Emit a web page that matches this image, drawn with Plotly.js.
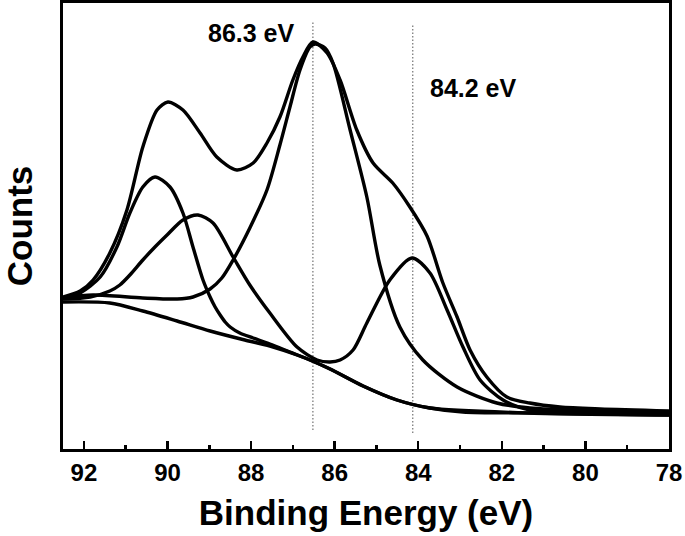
<!DOCTYPE html>
<html>
<head>
<meta charset="utf-8">
<script src="https://cdn.plot.ly/plotly-3.0.1.min.js"></script>
<style>html,body{margin:0;padding:0;background:#fff;}#chart{width:685px;height:536px;}</style>
</head>
<body>
<div id="chart"></div>
<script>
// Binding energy (eV) and counts (arbitrary units)
const envelopeE = [92.5, 92.09, 91.78, 91.38, 90.97, 90.59, 90.25, 89.99, 89.63, 89.22, 88.82, 88.34, 87.95, 87.62, 87.31, 87.00, 86.76, 86.52, 86.18, 85.87, 85.47, 85.08, 84.61, 84.20, 83.79, 83.41, 83.07, 82.76, 82.36, 81.88, 81.33, 80.61, 79.65, 78.0];
const envelopeC = [152, 158, 169, 196, 239, 302, 339, 347, 339, 316, 292, 279, 286, 306, 332, 369, 392, 407, 396, 369, 319, 286, 266, 242, 213, 166, 132, 99, 72, 52, 46, 42, 40, 38];

const peakAE = [92.5, 92.09, 91.61, 91.21, 90.90, 90.59, 90.30, 89.94, 89.63, 89.39, 89.15, 88.98, 88.86, 88.74, 88.62, 88.50, 88.27, 87.95, 87.55, 87.07, 86.59, 86.11, 85.32, 84.51, 83.72, 81.33, 78.0];
const peakAC = [151, 156, 172, 202, 236, 262, 272, 262, 236, 202, 169, 152, 142, 134, 127, 122, 116, 111, 105, 97, 89, 80, 63, 49, 41, 36, 34];

const peakBE = [92.5, 91.85, 91.38, 91.14, 90.90, 90.59, 90.30, 90.01, 89.63, 89.27, 88.91, 88.43, 88.03, 87.55, 86.90, 86.42, 86.11, 85.87, 85.56, 85.23, 84.68, 84.15, 83.72, 83.31, 82.93, 82.52, 81.97, 81.33, 79.65, 78.0];
const peakBC = [150, 152, 158, 164, 174, 189, 202, 214, 229, 234, 226, 192, 164, 136, 102, 89, 87, 89, 99, 126, 169, 191, 176, 139, 102, 69, 49, 39, 37, 35];

const mainE = [92.5, 91.78, 90.59, 89.77, 89.39, 88.98, 88.70, 88.43, 88.03, 87.62, 87.31, 87.07, 86.83, 86.59, 86.47, 86.23, 86.04, 85.63, 85.23, 84.92, 84.44, 83.89, 83.07, 82.12, 81.33, 79.65, 78.0];
const mainC = [151, 154, 151, 150, 152, 160, 171, 189, 221, 259, 304, 342, 379, 402, 405, 401, 386, 319, 252, 184, 122, 89, 62, 46, 41, 38, 36];

const bgE = [92.5, 91.38, 90.59, 89.77, 88.98, 88.15, 87.55, 86.83, 86.11, 85.32, 84.51, 83.72, 82.93, 81.33, 78.0];
const bgC = [147, 146, 138, 128, 118, 109, 103, 93, 80, 63, 49, 41, 37, 36, 34];

const markE = [86.52, 84.13];
const markTop = [427, 424];
const markBottom = [19, 16];
const markLabels = ['86.3 eV', '84.2 eV'];
const labelE = [88.0, 82.67];
const labelC = [416, 361];

const xTicks = [92, 90, 88, 86, 84, 82, 80, 78];

const FONT = 'Liberation Sans, Arial, Helvetica, sans-serif';
const lineStyle = {color: '#000', width: 3.4, shape: 'spline', smoothing: 0.8};

const curves = [
  [bgE, bgC], [peakAE, peakAC], [peakBE, peakBC], [mainE, mainC], [envelopeE, envelopeC]
];
const traces = curves.map(c => ({
  x: c[0], y: c[1], type: 'scatter', mode: 'lines', line: lineStyle, hoverinfo: 'skip', showlegend: false
}));
markE.forEach((e, i) => {
  traces.unshift({
    x: [e, e], y: [markBottom[i], markTop[i]], type: 'scatter', mode: 'lines',
    line: {color: '#555', width: 1, dash: '1.5px,2px'}, showlegend: false, hoverinfo: 'skip'
  });
});

const layout = {
  width: 685, height: 536,
  margin: {l: 63, r: 16, t: 3, b: 87},
  paper_bgcolor: '#fff', plot_bgcolor: '#fff',
  font: {family: FONT, color: '#000'},
  showlegend: false,
  xaxis: {
    range: [92.5, 78], tickvals: xTicks, ticktext: xTicks.map(v => '<b>' + v + '</b>'),
    ticks: 'inside', ticklen: 8, tickwidth: 2.5, tickcolor: '#000',
    minor: {dtick: 1, tick0: 79, ticks: 'inside', ticklen: 4, tickwidth: 2.5, tickcolor: '#000'},
    showline: true, linecolor: '#000', linewidth: 3, mirror: true,
    showgrid: false, zeroline: false,
    tickfont: {family: FONT, size: 24, color: '#000'},
    title: {text: '<b>Binding Energy (eV)</b>', font: {family: FONT, size: 35, color: '#000'}, standoff: 16}
  },
  yaxis: {
    range: [0, 446], showticklabels: false, ticks: '',
    showline: true, linecolor: '#000', linewidth: 3, mirror: true,
    showgrid: false, zeroline: false,
    title: {text: '<b>Counts</b>', font: {family: FONT, size: 35, color: '#000'}, standoff: 19}
  },
  annotations: markLabels.map((t, i) => ({
    x: labelE[i], y: labelC[i], xref: 'x', yref: 'y', text: '<b>' + t + '</b>', showarrow: false,
    font: {family: FONT, size: 25, color: '#000'}
  }))
};

Plotly.newPlot('chart', traces, layout, {staticPlot: true, displayModeBar: false});
</script>
</body>
</html>
